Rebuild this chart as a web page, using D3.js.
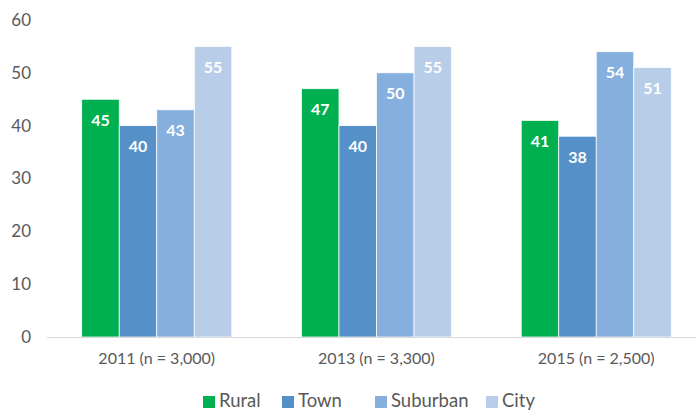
<!DOCTYPE html>
<html><head><meta charset="utf-8">
<script src="https://cdn.jsdelivr.net/npm/d3@7"></script>
<style>body{margin:0;background:#fff}svg{display:block}text{font-family:Lato,"Open Sans",sans-serif}</style>
</head><body>
<svg id="c" width="696" height="412"></svg>
<script>
const categories = ["2011 (n = 3,000)", "2013 (n = 3,300)", "2015 (n = 2,500)"];
const seriesNames = ["Rural", "Town", "Suburban", "City"];
const rural = [45, 47, 41];
const town = [40, 40, 38];
const suburban = [43, 50, 54];
const city = [55, 55, 51];
const yTicks = [0, 10, 20, 30, 40, 50, 60];
const colors = ["#00B050", "#5590C8", "#85AFDD", "#B8CDE8"];

const values = [rural, town, suburban, city];
const svg = d3.select("#c");
const x0 = d3.scaleBand().domain(categories).range([47, 706]).paddingInner(0.317).paddingOuter(0.158);
const x1 = d3.scaleBand().domain(seriesNames).range([0, x0.bandwidth()]);
const y = d3.scaleLinear().domain([0, 60]).range([337, 20]);

// y tick labels
svg.append("g").selectAll("text").data(yTicks).join("text")
  .attr("x", 31).attr("y", d => y(d)).attr("dy", "0.35em")
  .attr("text-anchor", "end").attr("font-size", 17).attr("fill", "#595959")
  .text(d => d);

// bars
const groups = svg.append("g").selectAll("g").data(categories).join("g")
  .attr("transform", d => `translate(${x0(d)},0)`);
groups.selectAll("rect").data((c, i) => seriesNames.map((s, j) => ({s, j, v: values[j][i]})))
  .join("rect")
  .attr("x", d => x1(d.s)).attr("width", x1.bandwidth())
  .attr("y", d => y(d.v)).attr("height", d => y(0) - y(d.v))
  .attr("fill", d => colors[d.j]).attr("stroke", "#fff").attr("stroke-width", 0.75);
groups.selectAll("text").data((c, i) => seriesNames.map((s, j) => ({s, j, v: values[j][i]})))
  .join("text")
  .attr("x", d => x1(d.s) + x1.bandwidth() / 2).attr("y", d => y(d.v) + 21).attr("dy", "0.35em")
  .attr("text-anchor", "middle").attr("font-size", 16).attr("font-weight", "bold").attr("fill", "#fff")
  .text(d => d.v);

// x axis line
svg.append("line").attr("x1", 47).attr("x2", 696).attr("y1", 337.5).attr("y2", 337.5)
  .attr("stroke", "#d9d9d9").attr("stroke-width", 1);

// category labels
svg.append("g").selectAll("text").data(categories).join("text")
  .attr("x", d => x0(d) + x0.bandwidth() / 2).attr("y", 358).attr("dy", "0.35em")
  .attr("text-anchor", "middle").attr("font-size", 16).attr("fill", "#595959")
  .text(d => d);

// legend
const legX = [203, 282, 375, 486];
const leg = svg.append("g").selectAll("g").data(seriesNames).join("g")
  .attr("transform", (d, i) => `translate(${legX[i]},401)`);
leg.append("rect").attr("x", 0).attr("y", -5).attr("width", 12).attr("height", 12)
  .attr("fill", (d, i) => colors[i]);
leg.append("text").attr("x", 16).attr("y", 0).attr("dy", "0.35em")
  .attr("font-size", 18.5).attr("fill", "#595959").text(d => d);
</script>
</body></html>
